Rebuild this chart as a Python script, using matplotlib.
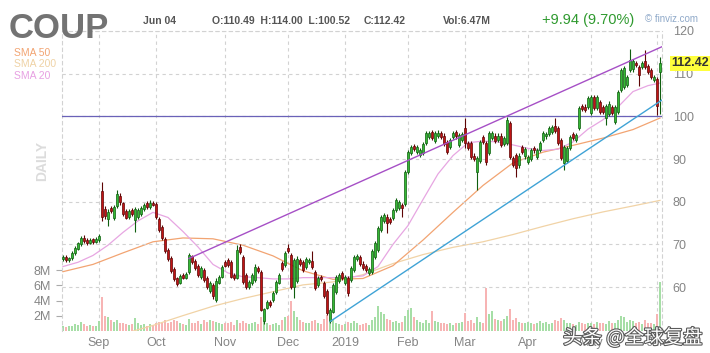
import numpy as np
import pandas as pd
import matplotlib
matplotlib.use("Agg")
import matplotlib.pyplot as plt
import matplotlib.patheffects as pe
import matplotlib.transforms as mtransforms

# ---- data ----
holidays = ['2018-09-03', '2018-11-22', '2018-12-05', '2018-12-25', '2019-01-01',
            '2019-01-21', '2019-02-18', '2019-04-19', '2019-05-27']

opens = [66.5, 67.0, 66.3, 66.8, 68.0, 69.0, 70.0, 71.6, 71.0, 70.4, 71.2, 70.6, 71.0, 82.5, 78.3, 76.0, 78.5, 76.2, 78.9, 81.3,
         79.6, 77.8, 76.3, 78.0, 75.8, 76.5, 77.0, 78.3, 79.6, 78.8, 79.8, 79.5, 76.0, 74.0, 71.3, 68.6, 66.8, 64.3, 62.0, 61.0,
         62.8, 62.2, 63.5, 67.2, 66.2, 65.0, 62.3, 64.0, 62.0, 59.0, 60.5, 57.0, 61.0, 62.4, 65.8, 66.4, 65.9, 62.9, 62.2, 69.4,
         67.1, 62.9, 60.0, 61.0, 61.7, 64.5, 63.6, 52.0, 55.2, 56.5, 57.0, 58.9, 61.0, 65.7, 65.2, 69.2, 67.5, 60.0, 61.5, 66.4,
         65.9, 64.6, 65.8, 66.0, 63.6, 60.5, 62.4, 61.0, 59.0, 52.0, 54.2, 58.9, 61.5, 63.3, 61.0, 62.2, 61.7, 64.0, 66.5, 67.0,
         65.5, 65.0, 63.3, 63.5, 67.1, 68.7, 73.4, 75.5, 76.5, 76.0, 76.2, 78.1, 78.5, 79.2, 79.5, 87.0, 91.4, 93.0, 91.6, 91.0,
         91.5, 93.8, 95.2, 96.3, 94.2, 95.5, 96.1, 95.5, 94.0, 92.8, 95.2, 96.3, 93.3, 94.5, 97.3, 93.8, 93.8, 90.8, 87.0, 89.5,
         95.2, 93.8, 91.4, 95.0, 95.5, 94.5, 95.5, 93.5, 93.8, 98.5, 90.3, 91.0, 88.5, 92.8, 90.6, 89.3, 90.0, 92.5, 90.5, 92.1,
         94.5, 95.3, 95.8, 96.3, 97.8, 97.3, 94.5, 89.1, 89.5, 92.5, 95.8, 94.5, 97.3, 102.5, 102.3, 102.2, 100.8, 104.5, 102.0, 103.4,
         102.2, 99.5, 100.5, 102.2, 98.7, 101.0, 106.2, 106.9, 107.4, 110.9, 111.0, 112.5, 111.6, 111.5, 113.0, 111.8, 110.9, 108.5, 108.8, 110.49]

closes = [67.0, 66.3, 66.7, 68.0, 69.2, 70.2, 71.5, 70.8, 70.2, 71.0, 70.5, 71.3, 72.0, 76.3, 76.6, 77.6, 77.8, 78.8, 81.8, 79.9,
          77.0, 76.2, 77.8, 77.0, 78.3, 78.0, 78.5, 79.3, 78.8, 79.8, 79.3, 76.4, 73.4, 71.5, 68.5, 66.5, 63.8, 61.8, 60.6, 62.6,
          62.2, 63.0, 67.4, 65.8, 64.4, 62.8, 64.4, 61.6, 60.0, 61.0, 57.8, 61.5, 62.3, 64.7, 65.0, 65.2, 62.4, 62.2, 68.7, 68.2,
          61.2, 60.0, 61.2, 62.9, 64.7, 63.8, 54.7, 54.8, 56.5, 55.8, 58.6, 61.2, 62.9, 64.3, 68.0, 68.5, 60.0, 66.4, 66.6, 65.5,
          64.0, 66.6, 66.4, 64.8, 59.8, 62.0, 61.8, 58.0, 54.0, 54.7, 60.5, 62.4, 62.8, 62.2, 62.4, 58.5, 64.5, 67.1, 67.2, 65.5,
          64.5, 64.0, 64.2, 68.5, 70.3, 73.9, 76.4, 76.8, 75.0, 75.3, 78.1, 80.4, 80.0, 78.6, 87.0, 91.7, 92.8, 92.3, 92.8, 92.0,
          93.5, 96.1, 96.0, 95.0, 96.0, 96.2, 95.2, 93.5, 91.7, 94.5, 96.1, 95.3, 95.6, 95.8, 93.8, 92.6, 90.5, 90.0, 90.3, 94.0,
          94.0, 89.3, 96.1, 96.1, 94.2, 95.5, 93.3, 95.0, 99.2, 90.5, 88.6, 88.0, 90.8, 91.7, 92.4, 90.5, 92.0, 92.0, 92.0, 93.8,
          96.1, 95.8, 97.3, 97.5, 96.6, 93.8, 90.3, 92.8, 92.5, 95.2, 95.0, 95.6, 102.0, 101.8, 101.6, 104.3, 104.6, 102.0, 104.6, 101.0,
          101.0, 102.5, 103.0, 100.8, 102.2, 105.7, 110.9, 111.3, 109.2, 113.2, 113.0, 112.0, 109.7, 112.5, 111.5, 110.5, 109.2, 109.2, 102.48, 112.42]

highs = [67.5, 67.4, 67.0, 68.4, 69.6, 70.6, 72.0, 72.1, 71.4, 71.5, 71.6, 71.8, 72.5, 84.6, 79.0, 78.2, 79.0, 79.3, 82.8, 82.0,
         80.0, 78.3, 78.4, 78.6, 78.7, 78.5, 79.0, 79.8, 80.2, 80.5, 80.2, 80.0, 76.5, 74.5, 71.8, 69.2, 67.3, 64.8, 62.4, 63.1,
         63.4, 63.5, 68.0, 67.6, 66.6, 65.5, 64.9, 64.5, 62.5, 61.5, 61.0, 62.0, 62.8, 65.2, 66.3, 66.8, 66.3, 63.4, 69.8, 70.0,
         67.6, 63.3, 61.7, 63.4, 65.3, 65.0, 64.0, 55.2, 57.0, 57.0, 59.1, 61.7, 63.4, 66.2, 68.5, 70.0, 68.0, 66.8, 67.2, 66.9,
         66.4, 67.1, 66.9, 68.5, 64.1, 62.5, 62.9, 61.5, 59.5, 55.1, 60.9, 62.9, 63.3, 63.8, 62.9, 62.6, 65.0, 67.6, 67.8, 67.5,
         66.0, 65.5, 64.7, 69.0, 70.8, 74.4, 76.9, 77.3, 77.0, 76.5, 78.6, 80.9, 80.5, 79.7, 87.5, 92.2, 93.3, 93.5, 93.3, 92.5,
         94.0, 96.6, 96.5, 96.8, 96.5, 96.7, 96.6, 96.0, 94.5, 95.0, 96.6, 96.8, 96.1, 96.3, 99.6, 94.3, 94.3, 91.3, 90.8, 94.5,
         95.7, 94.3, 96.6, 96.6, 96.0, 96.0, 96.0, 95.5, 99.9, 99.0, 90.8, 91.5, 91.3, 93.3, 92.9, 91.0, 92.5, 93.0, 92.5, 94.3,
         96.6, 96.3, 97.8, 98.0, 99.6, 97.8, 95.0, 93.3, 93.0, 95.7, 96.3, 96.1, 102.5, 103.0, 102.8, 104.8, 105.1, 105.0, 105.1, 103.9,
         102.7, 103.0, 103.5, 102.7, 102.7, 106.2, 111.4, 111.8, 109.7, 115.8, 113.5, 113.0, 112.1, 113.0, 115.5, 112.3, 111.4, 109.7, 109.3, 114.0]

lows = [66.0, 65.9, 65.9, 66.4, 67.6, 68.6, 69.6, 70.4, 69.8, 70.0, 70.1, 70.2, 70.6, 75.5, 76.0, 74.2, 77.3, 75.8, 78.5, 79.3,
        76.6, 75.9, 76.0, 76.6, 73.0, 76.0, 76.6, 77.9, 78.3, 78.4, 78.9, 76.0, 73.0, 71.0, 68.0, 66.0, 63.3, 61.3, 60.2, 60.6,
        61.8, 61.8, 63.1, 65.4, 64.0, 62.3, 61.8, 61.2, 59.5, 58.5, 57.3, 56.5, 60.6, 62.0, 64.6, 64.8, 62.0, 61.7, 61.8, 67.7,
        60.7, 59.5, 59.6, 60.5, 61.2, 63.3, 54.3, 51.4, 54.8, 55.3, 56.6, 58.4, 60.6, 63.8, 64.8, 68.0, 59.5, 57.5, 61.0, 65.0,
        63.5, 64.2, 65.3, 64.3, 59.3, 60.0, 61.3, 57.5, 53.5, 51.5, 53.8, 58.4, 61.0, 61.7, 60.5, 58.0, 61.2, 63.6, 66.0, 65.0,
        64.0, 63.5, 62.8, 63.0, 66.6, 68.2, 73.0, 75.0, 72.6, 74.8, 75.8, 77.6, 78.0, 76.5, 79.0, 86.5, 91.0, 91.8, 91.1, 90.5,
        91.0, 93.3, 94.7, 94.5, 93.7, 95.0, 94.7, 93.0, 91.2, 92.3, 94.7, 94.8, 92.8, 94.0, 92.5, 92.1, 90.0, 89.5, 82.8, 89.0,
        93.5, 88.5, 90.9, 94.5, 93.7, 94.0, 92.8, 93.0, 93.3, 90.0, 88.1, 85.8, 88.0, 91.2, 90.1, 88.8, 89.5, 91.5, 90.0, 91.6,
        94.0, 94.8, 95.3, 95.8, 96.1, 93.3, 89.8, 87.4, 89.0, 92.0, 94.5, 94.0, 96.8, 101.3, 101.1, 101.7, 100.3, 101.5, 101.5, 100.5,
        100.5, 98.0, 100.0, 100.3, 98.2, 100.5, 105.7, 106.4, 106.9, 110.4, 110.5, 111.5, 107.0, 111.0, 111.0, 110.0, 108.7, 108.0, 100.2, 100.52]

volume_m = [0.6, 0.5, 0.6, 0.7, 0.9, 0.8, 1.2, 0.9, 0.7, 0.8, 0.6, 0.7, 1.3, 4.5, 2.0, 1.8, 1.4, 1.2, 1.5, 1.0,
            1.1, 0.9, 0.8, 0.9, 1.7, 1.0, 0.8, 0.9, 0.7, 0.9, 0.8, 1.0, 1.2, 1.1, 1.4, 1.0, 1.2, 1.5, 1.3, 1.0,
            0.9, 0.8, 1.6, 1.0, 1.1, 1.3, 0.9, 1.4, 1.2, 1.5, 1.3, 1.2, 1.0, 0.9, 1.1, 1.0, 1.2, 0.8, 1.4, 1.0,
            1.3, 1.1, 0.9, 1.0, 1.2, 0.9, 1.8, 1.5, 1.0, 0.8, 0.9, 1.0, 0.8, 1.4, 1.8, 2.0, 3.9, 2.6, 1.8, 1.4,
            1.2, 1.0, 1.1, 1.3, 1.5, 1.1, 0.9, 1.6, 2.1, 1.2, 1.4, 1.1, 0.9, 0.8, 0.9, 1.2, 1.0, 1.3, 1.1, 0.8,
            0.9, 1.0, 0.8, 1.5, 1.9, 3.3, 2.5, 2.2, 1.6, 1.4, 1.2, 1.3, 1.0, 1.2, 2.0, 2.8, 3.0, 1.8, 1.5, 1.2,
            1.1, 1.4, 1.0, 2.6, 1.3, 1.2, 1.0, 1.1, 0.9, 1.0, 0.8, 1.1, 1.0, 1.2, 2.4, 1.3, 1.5, 1.1, 1.8, 1.2,
            1.0, 5.7, 2.2, 2.6, 1.6, 1.5, 1.3, 1.6, 2.0, 2.9, 1.4, 1.7, 1.2, 1.1, 1.0, 1.2, 1.0, 0.9, 1.1, 1.3,
            1.0, 1.2, 0.9, 1.0, 1.5, 1.3, 1.7, 1.4, 1.1, 1.0, 0.9, 0.8, 1.2, 1.0, 0.9, 1.1, 1.0, 0.9, 1.2, 1.0,
            1.1, 0.9, 1.3, 1.0, 1.1, 1.4, 2.0, 1.8, 1.2, 1.5, 1.3, 1.0, 1.2, 0.9, 1.4, 1.0, 1.1, 0.9, 2.3, 6.47]

# moving averages sampled every 5 / 10 bars (bar number, value)
sma20_bar = [0, 5, 10, 15, 20, 25, 30, 35, 40, 45, 50, 55, 60, 65, 70, 75, 80, 85, 90, 95,
             100, 105, 110, 115, 120, 125, 130, 135, 140, 145, 150, 155, 160, 165, 170, 175, 180, 185, 190, 195, 199]
sma20 = [64.8, 65.8, 67.4, 69.8, 72.8, 75.5, 77.5, 76.3, 73.0, 69.4, 65.3, 63.3, 62.4, 62.2, 61.9, 61.9, 62.2, 62.2, 62.2, 62.3,
         62.6, 64.8, 70.0, 74.4, 80.5, 86.5, 90.8, 93.8, 94.2, 94.0, 93.3, 92.5, 92.0, 92.3, 94.0, 97.0, 99.2, 102.2, 105.8, 107.2, 107.8]
sma_bar = [0, 10, 20, 30, 40, 50, 60, 70, 80, 90, 100, 110, 120, 130, 140, 150, 160, 170, 180, 190, 199]
sma50 = [63.6, 65.3, 68.0, 70.6, 71.5, 71.3, 69.8, 67.3, 63.8, 61.8, 62.0, 65.0, 71.0, 77.5, 83.8, 89.1, 91.6, 93.2, 94.9, 96.9, 99.6]
sma200 = [45.0, 47.0, 49.0, 51.0, 53.3, 55.5, 57.3, 58.9, 60.5, 61.2, 62.9, 65.5, 67.6, 69.3, 70.6, 72.3, 74.2, 76.0, 77.6, 79.0, 80.3]

# drawn trendlines (bar number, price) and support level
trend_top_bar, trend_top_price = [42, 199.6], [66.7, 116.3]
trend_low_bar, trend_low_price = [89, 199.6], [51.9, 103.8]
support_level = 100

price_ticks = [60, 70, 80, 90, 100, 110, 120]
vol_ticks = [2, 4, 6, 8]

dates = pd.bdate_range('2018-08-16', '2019-06-04')
dates = dates[~dates.isin(pd.to_datetime(holidays))]

# ---- figure ----
W, H = 710, 353
fig = plt.figure(figsize=(W / 100, H / 100), dpi=100)
plt.rcParams['font.family'] = ['Liberation Sans', 'DejaVu Sans']


def fx(px):
    return px / W


def fy(py):
    return 1 - py / H


left, right, top, bottom = 61.7, 661.7, 31, 331
axv = fig.add_axes([fx(left), fy(bottom), (right - left) / W, (bottom - top) / H])
ax = axv.twinx()

o = np.array(opens)
c = np.array(closes)
hi = np.array(highs)
lo = np.array(lows)
x = np.arange(len(dates))
up = c >= o

grid_kw = dict(color='#d2d2d2', linestyle=(0, (3, 3)), linewidth=0.8)
gray = '#858585'

# volume
axv.bar(x, volume_m, width=0.7, color=np.where(up, '#a6dea6', '#f7b4b4'), linewidth=0)
axv.set_ylim(0, (bottom - top) / 7.6)
axv.set_xlim(-0.43, len(dates) - 0.43)
axv.set_yticks(vol_ticks)
axv.set_yticklabels([f'{v}M' for v in vol_ticks])
axv.tick_params(axis='y', length=4, color='#aaaaaa', pad=4, labelsize=9, labelcolor=gray)

month_pos = [i for i in range(1, len(dates)) if dates[i].month != dates[i - 1].month]
month_lab = ['2019' if dates[i].month == 1 else dates[i].strftime('%b') for i in month_pos]
axv.set_xticks(month_pos)
axv.set_xticklabels(month_lab)
axv.tick_params(axis='x', length=0, pad=4, labelsize=9, labelcolor=gray)
axv.set_axisbelow(True)
axv.grid(axis='x', **grid_kw)
for s in ['left', 'right', 'top']:
    axv.spines[s].set_linestyle((0, (3, 3)))
    axv.spines[s].set_color('#d2d2d2')
    axv.spines[s].set_linewidth(0.8)
axv.spines['bottom'].set_visible(False)

# price
ax.set_ylim(120 - (bottom - top) / 4.267, 120)
ax.set_yticks(price_ticks)
ax.tick_params(axis='y', length=0, pad=8, labelsize=9, labelcolor=gray)
ax.grid(axis='y', **grid_kw)
for s in ax.spines.values():
    s.set_visible(False)

ax.plot(sma_bar, sma200, color='#f1d3a6', lw=0.9, zorder=1)
ax.plot(sma_bar, sma50, color='#f2a472', lw=0.9, zorder=1)
ax.plot(sma20_bar, sma20, color='#e7a6e2', lw=0.9, zorder=1)

ax.axhline(support_level, color='#6a62b8', lw=0.9, zorder=2)
ax.plot(trend_top_bar, trend_top_price, color='#a64fc6', lw=1.0, zorder=4)
ax.plot(trend_low_bar, trend_low_price, color='#3fa3d6', lw=1.0, zorder=4)

edge = np.where(up, '#0f5e0f', '#5e0505')
ax.vlines(x, lo, hi, colors=edge, lw=0.8, zorder=3)
body = np.maximum(np.abs(c - o), 0.15)
ax.bar(x, body, bottom=np.minimum(o, c), width=0.7,
       color=np.where(up, '#35b835', '#c01414'), edgecolor=edge, linewidth=0.5, zorder=3)

trans = mtransforms.blended_transform_factory(ax.transAxes, ax.transData)
ax.text(1 + 10 / (right - left), closes[-1], f'{closes[-1]:.2f}', transform=trans,
        ha='left', va='center', fontsize=9, fontweight='bold', color='#333333',
        bbox=dict(facecolor='#ffff3c', edgecolor='none', pad=1.2), zorder=6, clip_on=False)

# header
fig.text(fx(9), fy(29), 'COUP', fontsize=25, fontweight='bold', color='#737373', va='center')
fig.text(fx(143), fy(21), 'Jun 04', fontsize=7.5, fontweight='bold', color='#555555', va='center')
fig.text(fx(212), fy(21), f'O:{opens[-1]:.2f}  H:{highs[-1]:.2f}  L:{lows[-1]:.2f}', fontsize=7.5,
         fontweight='bold', color='#555555', va='center')
fig.text(fx(364), fy(21), f'C:{closes[-1]:.2f}', fontsize=7.5, fontweight='bold', color='#555555', va='center')
fig.text(fx(443), fy(21), f'Vol:{volume_m[-1]:.2f}M', fontsize=7.5, fontweight='bold', color='#555555', va='center')
chg = closes[-1] - closes[-2]
fig.text(fx(542), fy(20), f'+{chg:.2f} ({chg / closes[-2] * 100:.2f}%)', fontsize=10.5,
         color='#2f9a2f', va='center')
fig.text(fx(645), fy(19), '\u00a9 finviz.com', fontsize=7, color='#8fa9c9', va='center')

fig.text(fx(14), fy(53), 'SMA 50', fontsize=7.5, color='#f2a472', va='center')
fig.text(fx(14), fy(64), 'SMA 200', fontsize=7.5, color='#efd2a5', va='center')
fig.text(fx(14), fy(76), 'SMA 20', fontsize=7.5, color='#e7a0e2', va='center')
fig.text(fx(42), fy(161), 'DAILY', fontsize=10, fontweight='bold', color='#dcdcdc',
         rotation=90, ha='center', va='center')

fig.text(fx(563), fy(338), '头条 @全球复盘', fontsize=14, color='white', va='center',
         family=['Noto Sans CJK SC', 'DejaVu Sans'],
         path_effects=[pe.withStroke(linewidth=1.6, foreground='#5a5a5a')])

fig.savefig('out.png', dpi=100)
